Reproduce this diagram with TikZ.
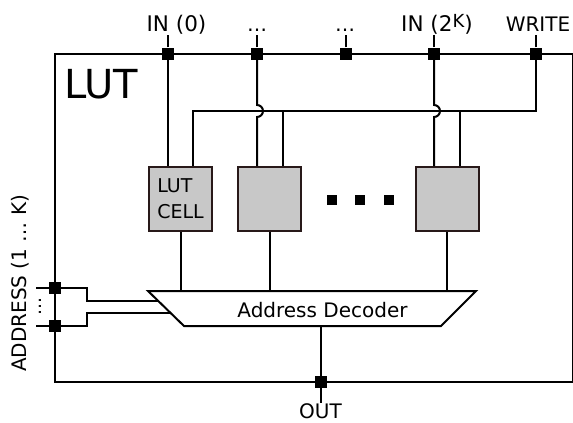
\documentclass[tikz,border=0pt]{standalone}
\usepackage{fontspec}
\setmainfont{DejaVu Sans}
\usetikzlibrary{calc}

\definecolor{cellfill}{RGB}{200,200,200}
\definecolor{celledge}{RGB}{40,25,25}

\tikzset{
  wire/.style={line width=2pt},
  pin/.style={fill=black, inner sep=0pt, minimum size=12pt},
  cellbox/.style={draw=celledge, line width=2pt, fill=cellfill, minimum width=63pt, minimum height=64pt, inner sep=0pt},
  lbl/.style={font=\fontsize{20}{24}\selectfont, inner sep=0pt, anchor=base},
}

\begin{document}
\begin{tikzpicture}[x=1pt,y=-1pt]
        \useasboundingbox (0,0) rectangle (573,423);

        % outer box
        \draw[wire] (55,53.5) rectangle (572.5,382);
        \node[lbl, font=\fontsize{40}{48}\selectfont, anchor=base west] (lut) at (64,98) {LUT};

        % top pins and labels
        \node[pin] (P0) at (168,53.5) {};
        \node[pin] (P1) at (257,53.5) {};
        \node[pin] (P2) at (346,53.5) {};
        \node[pin] (P3) at (434,53.5) {};
        \node[pin] (P4) at (536,53.5) {};
        \foreach \i in {0,...,4}
            \draw[wire] (P\i) -- ++(0,-19) coordinate (t\i);

        \node[lbl, font=\fontsize{21.5}{24}\selectfont] (in0) at (176.5,31) {IN (0)};
        \node[lbl] (d1) at (257,31) {…};
        \node[lbl] (d2) at (345,31) {…};
        \node[lbl, font=\fontsize{21.5}{24}\selectfont] (ink) at (437,31) {IN (2\raisebox{4pt}{\fontsize{18}{18}\selectfont K})};
        \node[lbl] (wr) at (538,31) {WRITE};

        % cells
        \node[cellbox, align=left, font=\fontsize{19}{26}\selectfont] (C1) at (180.5,199) {LUT\\CELL};
        \node[cellbox] (C2) at (269.5,199) {};
        \node[cellbox] (C3) at (447,199) {};
        \foreach \x in {332,360,389}
            \fill (\x-5,195) rectangle (\x+5,205);

        % write bus
        \coordinate (W) at (536,111);
        \coordinate (Wl) at (193,111);
        \coordinate (w2) at (283,111);
        \coordinate (w3) at (460,111);
        \draw[wire] (P4) -- (W) -- (Wl) -- (Wl |- C1.north);
        \draw[wire] (w2) -- (w2 |- C2.north);
        \draw[wire] (w3) -- (w3 |- C3.north);

        % inputs
        \coordinate (j1) at (257,105);
        \coordinate (j3) at (434,105);
        \draw[wire] (P0) -- (P0 |- C1.north);
        \draw[wire] (P1) -- (j1) arc[start angle=-90, end angle=90, radius=6] -- (P1 |- C2.north);
        \draw[wire] (P3) -- (j3) arc[start angle=-90, end angle=90, radius=6] -- (P3 |- C3.north);

        % decoder
        \coordinate (Dtl) at (148,291);
        \coordinate (Dtr) at (476,291);
        \coordinate (Dbr) at (441,326);
        \coordinate (Dbl) at (184,326);
        \draw[wire] (C1.south) -- (C1.south |- Dtl);
        \draw[wire] (C2.south) -- (C2.south |- Dtl);
        \draw[wire] (C3.south) -- (C3.south |- Dtl);
        \draw[wire, fill=white] (Dtl) -- (Dtr) -- (Dbr) -- (Dbl) -- cycle;
        \node[lbl] (dec) at (322.5,317) {Address Decoder};

        % output
        \node[pin] (O) at (321,382) {};
        \draw[wire] (O |- Dbl) -- (O) -- ++(0,21) coordinate (to);
        \node[lbl] (out) at (320.5,418.5) {OUT};

        % address
        \node[pin] (A1) at (55,288) {};
        \node[pin] (A2) at (55,326) {};
        \coordinate (k1) at (87,288);
        \coordinate (k2) at (87,326);
        \coordinate (da1) at ($(Dtl)!10/35!(Dbl)$);
        \coordinate (da2) at ($(Dtl)!22/35!(Dbl)$);
        \draw[wire] (A1) -- ++(-19,0) coordinate (a1t);
        \draw[wire] (A2) -- ++(-19,0) coordinate (a2t);
        \draw[wire] (A1) -- (k1) |- (da1);
        \draw[wire] (A2) -- (k2) |- (da2);
        \node[rotate=90, font=\fontsize{18}{18}\selectfont, inner sep=0pt] (vd) at (40,306) {…};
        \node[lbl, rotate=90] (addr) at (26,283.5) {ADDRESS (1 … K)};
    \end{tikzpicture}
\end{document}
